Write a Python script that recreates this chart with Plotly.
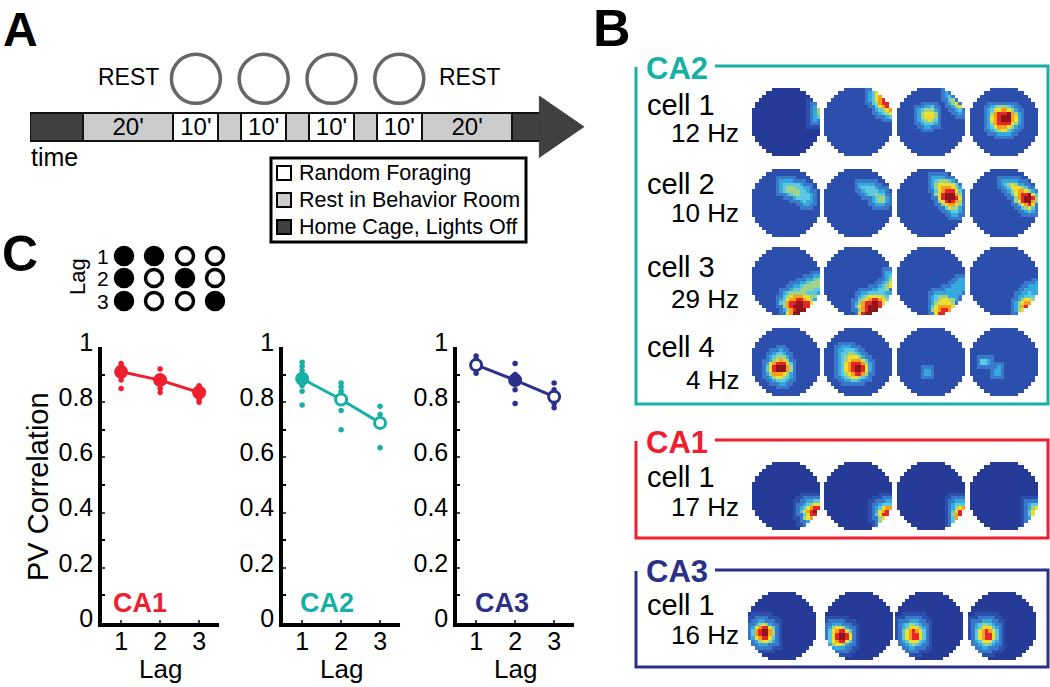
# -*- coding: utf-8 -*-
import numpy as np
import plotly.graph_objects as go

W, H = 1050, 687
FONT = "Liberation Sans"
TEAL, RED, NAVY = "#17b0a6", "#ee2030", "#2b3088"

# Panel A: session timeline (minutes)
seg_minutes = [11.7, 20, 10, 5, 10, 5, 10, 5, 10, 20, 6.2]
seg_kind = ["home", "rest", "run", "rest", "run", "rest", "run", "rest", "run", "rest", "home"]
seg_label = ["", "20'", "10'", "", "10'", "", "10'", "", "10'", "20'", ""]
kind_color = {"home": "#404040", "rest": "#cccccc", "run": "#ffffff"}
legend_labels = ["Random Foraging", "Rest in Behavior Room", "Home Cage, Lights Off"]
legend_kinds = ["run", "rest", "home"]

# Panel C: lag pattern dots
lag_rows = ["1", "2", "3"]
lag_pattern = [[1, 1, 0, 0], [1, 0, 1, 0], [1, 0, 0, 1]]

# Panel C: PV correlation
lags = [1, 2, 3]
ca1_mean = [0.91, 0.88, 0.835]
ca2_mean = [0.885, 0.81, 0.725]
ca3_mean = [0.935, 0.88, 0.82]
ca1_filled = [1, 1, 1]
ca2_filled = [1, 0, 0]
ca3_filled = [0, 1, 0]
ca1_points = [[0.94, 0.93, 0.92, 0.90, 0.88, 0.85], [0.92, 0.89, 0.87, 0.85, 0.835], [0.86, 0.85, 0.83, 0.81, 0.80]]
ca2_points = [[0.945, 0.93, 0.915, 0.90, 0.86, 0.84, 0.79], [0.87, 0.855, 0.84, 0.77, 0.70], [0.785, 0.755, 0.72, 0.635]]
ca3_points = [[0.967, 0.955, 0.94, 0.92, 0.905], [0.94, 0.90, 0.89, 0.845, 0.795], [0.87, 0.845, 0.795, 0.78]]
y_ticks = [0, 0.2, 0.4, 0.6, 0.8, 1]
y_ticktext = ["0", "0.2", "0.4", "0.6", "0.8", "1"]

# Panel B: rate maps. Half width of the arena per row, then per map the
# background level and the rows that differ from it (digits 0-9, '.' = background)
arena_half = [4, 6, 7, 8, 9, 9, 10, 10, 10, 10, 10, 10, 10, 10, 9, 9, 8, 7, 6, 4]
map_colors = ["#263a97", "#2c4fae", "#3a78c9", "#35a9dd", "#5cc9e0", "#9fd28a", "#ecdf2e", "#f6a01e", "#e5252a", "#8e1518"]

ca2_cell1 = [
    (0, {5: "..................3", 6: "..................35", 7: "..................35", 8: "..................34", 9: "..................3"}),
    (1, {1: ".............346", 2: ".............3467", 3: ".............34678", 4: "..............45788", 5: "...............4678", 6: "...............34567", 7: "................3456", 8: "..................34"}),
    (1, {1: "..............3", 2: "..............34", 3: "...............45", 4: "...............356", 5: ".......2334.....356", 6: "......345553.....34", 7: "......356665......3", 8: "......356665", 9: "......345654", 10: ".......34443", 11: ".......2332"}),
    (1, {4: ".......22222", 5: "......3455543", 6: ".....346677653", 7: ".....3578889753", 8: ".....3678999763", 9: ".....3678999763", 10: ".....3578888653", 11: ".....346777653", 12: "......3456643", 13: ".......233332"}),
]
ca2_cell2 = [
    (1, {3: "........3333", 4: "........3444443", 5: "........345554433", 6: "........345555443", 7: "..........34554443", 8: "............344443", 9: "..............3433", 10: "...............33"}),
    (1, {4: "..........33333", 5: "..........344443", 6: "...........3444433", 7: "............344544", 8: "..............34553", 9: "..............34553", 10: "...............333"}),
    (1, {2: "..........3333", 3: "..........3455543", 4: "..........35666664", 5: "..........356777653", 6: "...........46788864", 7: "...........56899975", 8: "............6899986", 9: "............5689875", 10: ".............567765", 11: "..............46553", 12: "...............3443", 13: "................33"}),
    (1, {3: ".........33333", 4: ".........3456533", 5: "..........3466654", 6: "...........35677653", 7: "............46788964", 8: ".............5789985", 9: ".............5689975", 10: "..............46786", 11: "...............4564", 12: "................343"}),
]
ca2_cell3 = [
    (1, {8: "..................33", 9: "................3345", 10: "..............334555", 11: "............33455555", 12: "...........344555544", 13: ".........34555554443", 14: ".........45677766553", 15: "........34677887653", 16: "........45788998865", 17: ".........5789998876", 18: ".........35789998753", 19: "..........67999"}),
    (1, {7: "..................33", 8: "..................34", 9: "..................35", 10: ".................346", 11: "................3456", 12: "..............33445", 13: "...........334444433", 14: "..........3456666543", 15: "..........4567887653", 16: ".........357889986", 17: ".........46789998", 18: "..........5789998", 19: "..........6899"}),
    (1, {9: "..................33", 10: ".................333", 11: "................3333", 12: "..............333333", 13: "...........33333333", 14: "..........34555333", 15: "..........34566553", 16: "..........3566665", 17: "..........4677776", 18: "..........5678875", 19: "...........688"}),
    (1, {10: "...................3", 11: ".................333", 12: "................3333", 13: "...............33433", 14: "..............334443", 15: "..............356654", 16: ".............3567764", 17: ".............3578875", 18: ".............356776", 19: "..............3"}),
]
ca2_cell4 = [
    (1, {6: ".......23", 7: "......3443", 8: ".....345553", 9: ".....356765", 10: "....36788864", 11: "....46899975", 12: "....46899975", 13: "....35777653", 14: ".....3566543", 15: "......34443", 16: ".......233"}),
    (1, {5: "....2333", 6: "....334443", 7: "....3445543", 8: "....34566653", 9: "....345677764", 10: "....3467888753", 11: "....3467899863", 12: "....3467899863", 13: "....345678875", 14: ".....34566543", 15: "......33443"}),
    (1, {11: "........22", 12: ".......2332", 13: ".......2332"}),
    (1, {8: "...22", 9: "..2443", 10: "..2443", 11: "...22..23", 12: ".......33", 13: ".......33", 14: ".......22"}),
]
ca1_cell1 = [
    (0, {11: "...............23344", 12: "..............234566", 13: "..............346788", 14: "..............46789", 15: "...............46889", 16: "...............5675", 17: "................35"}),
    (0, {11: ".................233", 12: "................3444", 13: "...............34677", 14: "...............36788", 15: "...............46889", 16: "................5675", 17: "................5"}),
    (0, {11: "................2333", 12: "................3444", 13: "................3567", 14: "................4688", 15: "................5787", 16: "................475", 17: "................4"}),
    (0, {12: ".................344", 13: ".................356", 14: ".................468", 15: ".................467", 16: ".................35"}),
]
ca3_cell1 = [
    (0, {8: "..2332", 9: ".235653", 10: ".3678864", 11: ".4789975", 12: ".4789975", 13: ".3678864", 14: "..356653", 15: "...3332"}),
    (0, {9: ".23332", 10: ".356653", 11: ".4678864", 12: ".4689986", 13: ".4689986", 14: ".4678864", 15: ".356653", 16: "..3333"}),
    (0, {8: "...2333", 9: "..345543", 10: "..3466643", 11: "..4678764", 12: "..4678864", 13: "..4678864", 14: "..3466643", 15: "...34543", 16: "....33"}),
    (0, {8: "...2333", 9: "..345543", 10: "..3466643", 11: "..4678764", 12: "..4678864", 13: "..4678864", 14: "..3466643", 15: "...34543", 16: "....33"}),
]


def rate_grid(base, rows):
    grid = []
    for r, half in enumerate(arena_half):
        text = rows.get(r, "").ljust(20, ".")
        row = [None] * 20
        for c in range(10 - half, 10 + half):
            row[c] = base if text[c] == "." else int(text[c])
        grid.append(row)
    # the original maps are smoothed: soft rim around the fields
    hot = [[v is not None and v >= 3 for v in row] for row in grid]
    for r in range(20):
        for c in range(20):
            if grid[r][c] != base:
                continue
            near = [hot[i][j] for i in range(max(r - 2, 0), min(r + 3, 20)) for j in range(max(c - 2, 0), min(c + 3, 20))
                    if abs(i - r) <= 1 and abs(j - c) <= 1]
            wide = [hot[i][j] for i in range(max(r - 2, 0), min(r + 3, 20)) for j in range(max(c - 2, 0), min(c + 3, 20))]
            if any(near):
                grid[r][c] = 2
            elif any(wide):
                grid[r][c] = 1
    return grid


fig = go.Figure()
notes = []


def label(x, y, text, size, color="black", anchor="left", angle=0, bold=False):
    notes.append(dict(x=x, y=y, xref="x", yref="y", text=f"<b>{text}</b>" if bold else text, showarrow=False,
                      xanchor=anchor, yanchor="middle", textangle=angle, font=dict(family=FONT, size=size, color=color)))


# Rate maps, on a page-sized axis
map_lefts = [752, 824, 897, 970]
blocks = [
    (ca2_cell1, 88, map_lefts), (ca2_cell2, 169, map_lefts), (ca2_cell3, 247, map_lefts), (ca2_cell4, 328, map_lefts),
    (ca1_cell1, 462, map_lefts), (ca3_cell1, 592, [748, 825, 895, 968]),
]
for maps, top, lefts in blocks:
    for (base, rows), left in zip(maps, lefts):
        fig.add_trace(go.Heatmap(z=rate_grid(base, rows), x0=left + 1.7, dx=3.4, y0=top + 1.7, dy=3.4,
                                 zmin=0, zmax=9, showscale=False, hoverinfo="skip",
                                 colorscale=[[i / 9, c] for i, c in enumerate(map_colors)],
                                 xaxis="x", yaxis="y"))

# Frames of panel B (open at the region title)
frames = [(66, 404, TEAL), (440, 538, RED), (570, 667, NAVY)]
for top, bottom, color in frames:
    fig.add_trace(go.Scatter(x=[715, 1048, 1048, 636, 636], y=[top, top, bottom, bottom, top + 1], mode="lines",
                             line=dict(color=color, width=3), hoverinfo="skip", xaxis="x", yaxis="y"))

# Legend of panel A
legend_y = [173, 200, 227]
fig.add_trace(go.Scatter(x=[284] * 3, y=legend_y, mode="markers", hoverinfo="skip", xaxis="x", yaxis="y",
                         marker=dict(symbol="square", size=14, color=[kind_color[k] for k in legend_kinds],
                                     line=dict(color="black", width=2))))
for y, name in zip(legend_y, legend_labels):
    label(297, y, name, 21.5)

# Lag pattern dots
dot_x, dot_y, dot_fill = [], [], []
for row_y, row in zip([256, 278, 301], lag_pattern):
    for col_x, on in zip([124, 154, 185, 215], row):
        dot_x.append(col_x)
        dot_y.append(row_y)
        dot_fill.append("black" if on else "white")
fig.add_trace(go.Scatter(x=dot_x, y=dot_y, mode="markers", hoverinfo="skip", xaxis="x", yaxis="y",
                         marker=dict(size=17, color=dot_fill, line=dict(color="black", width=3.5))))
for row_y, name in zip([256, 278, 301], lag_rows):
    label(103, row_y, name, 21, anchor="center")
label(77, 277, "Lag", 22, anchor="center", angle=-90)

# Timeline
for mins, kind, text in zip(seg_minutes, seg_kind, seg_label):
    fig.add_trace(go.Bar(y=[0], x=[mins], orientation="h", width=1, text=[text], textposition="inside",
                         insidetextanchor="middle", textangle=0, constraintext="none",
                         insidetextfont=dict(family=FONT, size=24, color="black"),
                         marker=dict(color=kind_color[kind], line=dict(color="#111111", width=2)),
                         hoverinfo="skip", xaxis="x2", yaxis="y2"))
ends = np.cumsum(seg_minutes)
run_centers = [e - m / 2 for e, m, k in zip(ends, seg_minutes, seg_kind) if k == "run"]
fig.add_trace(go.Scatter(x=run_centers, y=[1.72] * 4, mode="markers", hoverinfo="skip", xaxis="x2", yaxis="y2",
                         marker=dict(size=49, color="white", line=dict(color="#666666", width=3.5))))
arrow_x = [ends[-1] - 0.2, ends[-1] - 0.2, ends[-1] + 9.7]
arrow_y = [-1.1, 1.1, 0]
fig.add_trace(go.Scatter(x=arrow_x, y=arrow_y, mode="lines", fill="toself", fillcolor="#404040", hoverinfo="skip",
                         line=dict(color="#404040", width=1), xaxis="x2", yaxis="y2"))

# PV correlation panels
panels = [
    ("x3", "y3", 102, ca1_mean, ca1_points, ca1_filled, RED, "CA1", 140),
    ("x4", "y4", 283, ca2_mean, ca2_points, ca2_filled, TEAL, "CA2", 327),
    ("x5", "y5", 457, ca3_mean, ca3_points, ca3_filled, NAVY, "CA3", 502),
]
layout_axes = {}
for xa, ya, left, mean, points, filled, color, name, name_x in panels:
    px = [lag for lag, vals in zip(lags, points) for _ in vals]
    py = [v for vals in points for v in vals]
    fig.add_trace(go.Scatter(x=px, y=py, mode="markers", marker=dict(size=5.5, color=color), hoverinfo="skip", xaxis=xa, yaxis=ya))
    fig.add_trace(go.Scatter(x=lags, y=mean, mode="lines+markers", hoverinfo="skip", xaxis=xa, yaxis=ya, line=dict(color=color, width=3),
                             marker=dict(size=11, color=[color if f else "white" for f in filled], line=dict(color=color, width=3))))
    label(name_x, 603, name, 27, color=color, anchor="center", bold=True)
    label(left + 58, 669, "Lag", 26, anchor="center")
    axis_font = dict(family=FONT, size=25, color="black")
    layout_axes["xaxis" + xa[1:]] = dict(domain=[left / W, (left + 117) / W], range=[0.51, 3.51], anchor=ya, tickvals=lags, automargin=False,
                                         showline=True, linecolor="black", linewidth=3.5, showgrid=False, zeroline=False,
                                         ticks="inside", ticklen=3, tickwidth=2, tickfont=axis_font, ticklabelstandoff=-7)
    layout_axes["yaxis" + ya[1:]] = dict(domain=[1 - 623 / H, 1 - 347 / H], range=[0, 1], anchor=xa, tickvals=y_ticks, ticktext=y_ticktext, automargin=False,
                                         showline=True, linecolor="black", linewidth=3.5, showgrid=False, zeroline=False,
                                         ticks="inside", ticklen=3, tickwidth=2, tickfont=axis_font, ticklabelshift=-5,
                                         minor=dict(dtick=0.1, ticks="inside", ticklen=3, tickwidth=2, tickcolor="black"))

# Texts
label(1, 29, "A", 48, bold=True)
label(591, 28, "B", 52, bold=True)
label(0, 254, "C", 50, bold=True)
label(128, 77, "REST", 23, anchor="center")
label(469, 77, "REST", 23, anchor="center")
label(29, 157, "time", 25)
label(38, 487, "PV Correlation", 29, anchor="center", angle=-90)
for x, y, text, color in [(644, 68, "CA2", TEAL), (644, 442, "CA1", RED), (644, 571, "CA3", NAVY)]:
    label(x, y, text, 31, color=color, bold=True)
cells = [("cell 1", 105, "12 Hz", 133), ("cell 2", 184, "10 Hz", 213), ("cell 3", 267, "29 Hz", 299),
         ("cell 4", 347, "4 Hz", 380), ("cell 1", 477, "17 Hz", 507), ("cell 1", 605, "16 Hz", 635)]
for name, name_y, rate, rate_y in cells:
    label(645, name_y, name, 29)
    label(741, rate_y, rate, 26, anchor="right")

fig.update_layout(
    width=W, height=H, autosize=False, margin=dict(l=0, r=0, t=0, b=0), showlegend=False, barmode="stack",
    paper_bgcolor="white", plot_bgcolor="rgba(0,0,0,0)", annotations=notes,
    shapes=[dict(type="rect", xref="x", yref="y", x0=271, x1=526, y0=158, y1=242, line=dict(color="black", width=3))],
    xaxis=dict(domain=[0, 1], range=[0, W], visible=False, fixedrange=True, automargin=False),
    yaxis=dict(domain=[0, 1], range=[H, 0], visible=False, fixedrange=True, automargin=False),
    xaxis2=dict(domain=[30 / W, 590 / W], range=[0, 560 / 4.52], visible=False, anchor="y2"),
    yaxis2=dict(domain=[1 - 160 / H, 1 - 50 / H], range=[-1.18, 2.75], visible=False, anchor="x2"),
    **layout_axes,
)
fig.write_html("out.html", config=dict(displayModeBar=False), post_script="document.body.style.margin='0';")
